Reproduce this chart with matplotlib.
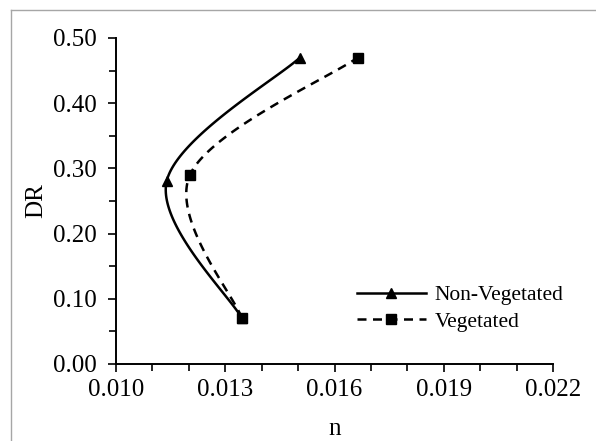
import numpy as np
import matplotlib
matplotlib.use("Agg")
import matplotlib.pyplot as plt
from matplotlib.lines import Line2D

# Data
dr_nonveg = [0.07, 0.28, 0.47]
n_nonveg = [0.01346, 0.01139, 0.01505]
dr_veg = [0.07, 0.29, 0.47]
n_veg = [0.01346, 0.01203, 0.01664]
x_ticks = [0.010, 0.013, 0.016, 0.019, 0.022]
y_ticks = [0.00, 0.10, 0.20, 0.30, 0.40, 0.50]

plt.rcParams['font.family'] = ['Liberation Serif', 'DejaVu Serif']


def smooth(xs, ys, n=60):
    P = np.column_stack([xs, ys]).astype(float)
    m = len(P)
    out = []
    for i in range(m - 1):
        p0 = P[i - 1] if i > 0 else P[i]
        p1 = P[i]
        p2 = P[i + 1]
        p3 = P[i + 2] if i + 2 < m else P[i + 1]
        c1 = p1 + (p2 - p0) / 6.0
        c2 = p2 - (p3 - p1) / 6.0
        t = np.linspace(0, 1, n)[:, None]
        seg = ((1 - t) ** 3) * p1 + 3 * ((1 - t) ** 2) * t * c1 + 3 * (1 - t) * t ** 2 * c2 + t ** 3 * p2
        out.append(seg if i == 0 else seg[1:])
    pts = np.vstack(out)
    return pts[:, 0], pts[:, 1]


fig = plt.figure(figsize=(5.96, 4.41), dpi=100)
# figure border (top and left visible)
fig.add_artist(Line2D([11 / 596, 11 / 596], [0, 1 - 10 / 441], color='#a6a6a6', lw=1))
fig.add_artist(Line2D([11 / 596, 1], [1 - 10 / 441, 1 - 10 / 441], color='#a6a6a6', lw=1))

ax = fig.add_axes([116 / 596, 77 / 441, 437 / 596, 326 / 441])

LW = 1.8
DASH = (0, (3.6, 2.6))
sx, sy = smooth(n_nonveg, dr_nonveg)
ax.plot(sx, sy, color='black', lw=LW, ls='-')
ax.plot(n_nonveg, dr_nonveg, ls='none', marker='^', color='black', ms=7.5)

vx, vy = smooth(n_veg, dr_veg)
ax.plot(vx, vy, color='black', lw=LW, ls=DASH)
ax.plot(n_veg, dr_veg, ls='none', marker='s', color='black', ms=7)

ax.set_xlim(0.010, 0.022)
ax.set_ylim(0.0, 0.5)
ax.set_xticks(x_ticks)
ax.set_xticklabels([f"{v:.3f}" for v in x_ticks])
ax.set_yticks(y_ticks)
ax.set_yticklabels([f"{v:.2f}" for v in y_ticks])
ax.set_xticks(np.arange(0.010, 0.0221, 0.001), minor=True)
ax.set_yticks(np.arange(0.0, 0.501, 0.05), minor=True)
ax.tick_params(axis='both', which='both', direction='out', width=1.2, color='black', labelsize=18)
ax.tick_params(which='major', length=6)
ax.tick_params(which='minor', length=5)
ax.tick_params(axis='x', pad=5)
ax.tick_params(axis='y', pad=8)
for s in ['top', 'right']:
    ax.spines[s].set_visible(False)
for s in ['left', 'bottom']:
    ax.spines[s].set_linewidth(1.4)

ax.set_xlabel('n', fontsize=18, labelpad=12)
ax.set_ylabel('DR', fontsize=18, labelpad=4)

h1 = Line2D([], [], color='black', lw=LW, marker='^', ms=7.5)
h2 = Line2D([], [], color='black', lw=LW, ls=DASH, marker='s', ms=7)
ax.legend([h1, h2], ['Non-Vegetated', 'Vegetated'], loc='lower left',
          bbox_to_anchor=(0.507, 0.04), frameon=False, fontsize=15.5,
          handlelength=3.2, handletextpad=0.4, labelspacing=0.3)

fig.savefig('out.png', dpi=100)
